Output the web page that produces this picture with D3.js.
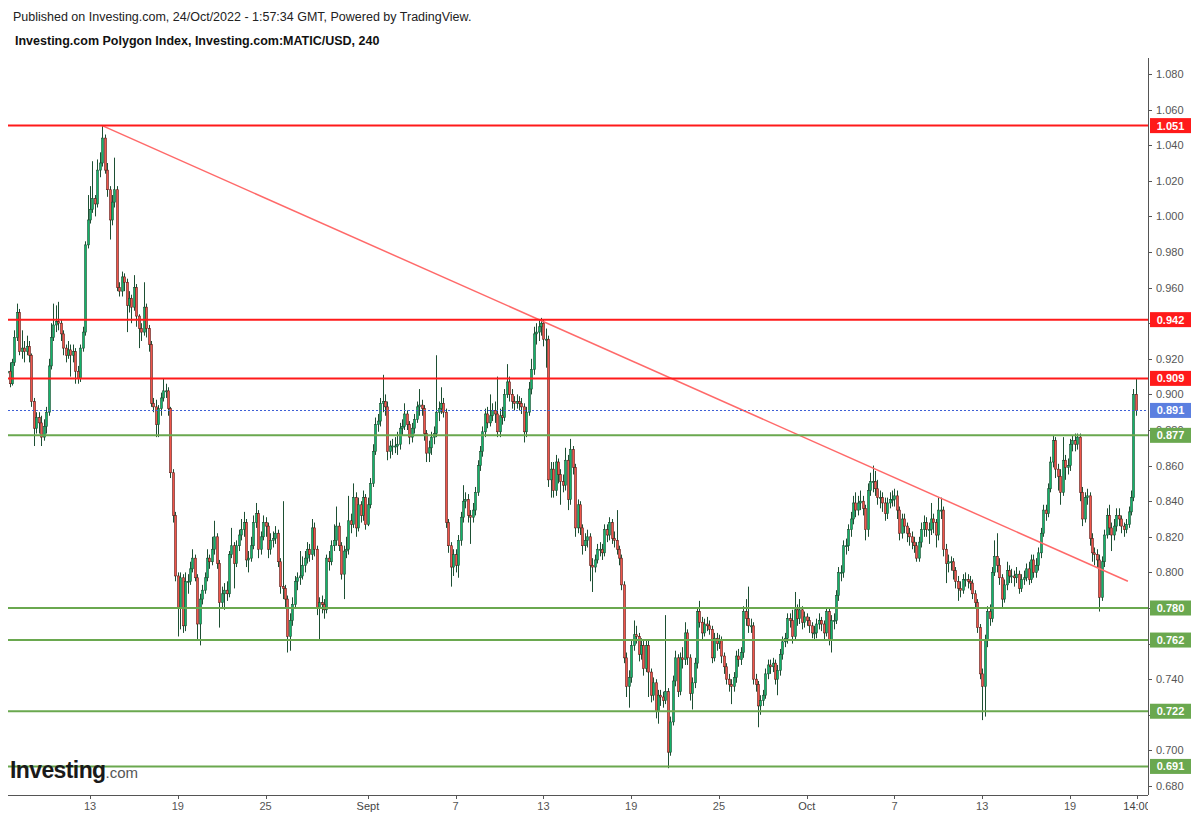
<!DOCTYPE html>
<html>
<head>
<meta charset="utf-8">
<script src="https://cdn.jsdelivr.net/npm/d3@7"></script>
<style>
  body { margin: 0; background: #fff; }
  svg { display: block; font-family: "Liberation Sans", Arial, sans-serif; }
</style>
</head>
<body>
<div id="chart"></div>
<script>
//========= Data (prices in thousandths of USD, 4h candles) =========//
// first candle starts 7 Aug 2022 08:00 UTC, open of each later candle = previous close
var startTime = Date.UTC(2022, 7, 7, 8);
var firstOpen = 912;

var closes = [
  913,906,918,932,946,924,926,924,927,922, 896,881,887,884,876,882,890,916,932,939,
  941,940,934,926,922,925,922,924,913,909, 926,935,984,998,1004,1010,1007,1026,1030,1044,
  1026,1015,998,1008,1015,960,958,966,963,950, 954,949,960,944,937,935,949,937,928,895,
  893,883,892,898,902,902,892,856,832,798, 780,797,770,795,795,802,808,797,771,785,
  790,797,808,806,813,820,805,783,788,790, 788,810,815,805,815,821,824,828,807,808,
  815,828,833,813,820,828,826,813,818,819, 822,806,792,791,785,764,773,782,795,797,
  798,804,808,813,810,825,813,780,783,782, 779,808,806,815,818,826,815,799,812,813,
  829,827,842,825,838,832,842,827,838,850, 868,883,885,895,896,893,868,871,871,871,
  872,881,882,889,883,876,881,886,893,894, 892,878,867,870,876,878,890,892,895,890,
  828,815,803,810,804,818,831,840,841,832, 831,835,845,860,868,879,889,884,888,891,
  889,879,888,887,900,907,900,896,895,896, 895,893,879,890,903,914,934,935,938,940,
  931,931,852,858,846,862,855,851,849,863, 841,869,859,825,838,825,815,818,820,804,
  803,807,813,813,811,824,821,828,819,818, 813,808,793,752,736,741,759,765,764,754,
  759,746,759,744,731,738,722,731,730,728, 733,699,716,739,752,733,752,751,766,752,
  732,738,749,778,772,766,771,770,768,752, 763,760,762,753,747,740,737,736,741,753,
  751,755,778,774,770,770,740,737,725,728, 731,743,748,747,749,740,745,754,761,763,
  774,773,764,779,774,779,772,775,773,770, 766,766,771,773,771,766,778,762,773,773,
  787,800,800,815,815,824,830,839,835,839, 840,836,824,846,851,851,847,842,842,839,
  833,839,841,841,843,835,822,830,826,822, 820,817,815,808,817,824,828,824,824,830,
  828,821,835,835,813,805,806,806,801,795, 791,790,796,796,795,794,788,783,769,743,
  736,762,778,774,800,809,804,797,785,793, 801,798,798,797,799,791,796,797,802,796,
  807,800,804,811,822,835,833,847,862,874, 858,854,845,863,859,860,872,874,872,876,
  845,830,842,843,819,811,810,807,786,806, 821,832,825,821,826,832,830,826,824,827,
  834,842,900,891
];

var highs = [
  917,918,920,936,951,948,936,930,933,930, 923,898,890,890,888,886,893,920,940,951,
  950,952,942,936,928,930,928,928,926,916, 928,938,986,1012,1017,1031,1012,1032,1036,1051,
  1046,1030,1017,1012,1033,1017,963,969,968,965, 958,956,967,962,945,940,963,951,939,930,
  898,897,894,901,909,906,904,893,858,834, 800,800,799,800,799,806,813,810,799,788,
  793,800,813,810,820,829,822,807,792,794, 795,812,825,817,818,824,830,834,830,812,
  820,832,839,835,823,832,831,828,822,823, 826,824,808,840,793,787,777,786,798,800,
  812,809,812,817,816,830,828,815,786,787, 785,810,812,818,827,837,828,817,815,820,
  843,833,850,845,842,840,846,844,842,853, 872,887,889,898,911,900,896,874,875,876,
  879,884,886,895,891,885,884,889,896,903, 897,894,880,874,879,882,922,896,904,898,
  892,830,817,813,813,821,834,849,845,844, 835,839,848,863,871,882,892,893,900,895,
  896,910,892,893,903,917,910,903,899,900, 899,898,895,893,907,920,938,940,942,943,
  942,937,933,862,862,866,864,858,855,870, 866,875,871,861,841,840,827,822,824,822,
  808,810,816,817,816,827,827,831,830,823, 835,815,810,795,755,745,762,773,770,766,
  763,762,762,762,746,741,740,734,734,733, 776,735,719,742,756,754,755,758,772,768,
  754,741,752,780,784,775,774,775,773,770, 766,766,765,764,755,749,743,740,744,756,
  757,758,781,785,792,774,772,743,739,731, 734,746,751,751,752,751,748,757,764,766,
  777,777,779,789,782,785,781,778,777,775, 772,770,774,777,775,773,780,780,776,777,
  790,803,804,818,819,827,834,843,845,843, 846,843,838,850,856,860,857,852,846,845,
  842,842,845,846,847,846,837,833,833,828, 825,823,820,817,820,828,832,831,828,839,
  833,830,842,842,837,816,810,809,808,803, 798,795,799,800,799,798,796,790,785,771,
  746,765,781,782,803,818,822,808,799,796, 806,804,802,801,803,801,799,801,805,806,
  810,810,808,814,825,838,838,850,865,877, 876,861,858,876,866,864,875,877,878,878,
  878,848,845,847,845,822,814,813,810,809, 824,836,838,828,830,836,836,832,828,830,
  837,846,903,909
];

var lows = [
  908,904,905,916,930,922,920,918,922,918, 893,871,878,878,871,874,878,888,914,930,
  935,936,930,922,918,920,910,918,906,906, 907,924,933,982,996,1002,1000,1005,1022,1028,
  1024,1011,987,995,1005,958,955,955,958,935, 946,940,947,938,926,930,933,932,924,893,
  890,876,876,888,896,898,888,853,828,795, 764,768,766,767,788,793,800,795,762,759,
  782,788,795,802,804,810,802,769,780,779, 784,786,808,791,803,812,818,820,803,800,
  806,813,825,808,810,818,820,808,810,814, 816,803,788,785,780,755,756,770,780,790,
  793,796,800,805,806,807,809,776,762,777, 774,777,801,804,812,815,812,796,785,808,
  810,822,825,820,823,828,829,824,826,836, 848,866,879,882,890,888,863,864,866,867,
  866,869,877,880,880,872,873,878,884,888, 888,874,862,862,866,872,876,885,889,887,
  825,811,792,798,800,797,815,828,836,828, 816,828,832,843,857,865,876,881,882,885,
  884,876,876,883,885,898,896,892,891,892, 891,889,873,876,888,900,911,928,930,933,
  927,915,848,842,842,843,850,838,845,846, 835,838,855,820,822,821,810,812,814,795,
  789,800,805,809,807,809,817,818,816,814, 810,804,790,749,730,724,738,756,760,750,
  751,742,744,730,727,728,718,715,725,724, 726,690,697,714,736,730,731,746,748,748,
  728,723,735,746,769,762,764,767,765,749, 750,756,757,749,743,737,733,726,733,738,
  747,748,752,770,766,766,737,733,713,720, 725,729,740,743,744,737,731,742,751,758,
  760,769,760,762,770,771,768,769,770,766, 763,762,763,768,767,762,764,759,755,768,
  771,784,795,797,810,812,820,827,831,832, 835,832,818,820,843,845,843,838,836,834,
  829,830,836,837,837,830,818,819,822,817, 815,813,811,806,806,814,820,820,816,821,
  822,814,818,830,809,794,800,801,796,791, 784,786,788,792,791,790,785,780,766,740,
  717,719,758,770,772,798,800,793,780,783, 790,794,794,792,794,788,789,793,795,793,
  794,797,797,801,808,820,829,831,845,859, 853,846,838,843,852,855,857,868,868,869,
  840,826,828,838,815,806,804,803,778,784, 803,819,821,812,818,823,826,822,820,822,
  825,832,840,888
];

// horizontal levels drawn on the chart
var resistanceLevels = [1.051, 0.942, 0.909];
var supportLevels = [0.877, 0.780, 0.762, 0.722, 0.691];
var lastPrice = 0.891;

// trend line from the August top, through the Sept 13 high
var trendPoints = [
  [Date.UTC(2022, 7, 13, 20), 1.051],
  [Date.UTC(2022, 9, 22, 23), 0.795]
];

// axis ticks
var yTicks = [0.68, 0.70, 0.72, 0.74, 0.76, 0.78, 0.80, 0.82, 0.84, 0.86, 0.88,
  0.90, 0.92, 0.94, 0.96, 0.98, 1.00, 1.02, 1.04, 1.06, 1.08];
var xTickDates = [
  Date.UTC(2022, 7, 13), Date.UTC(2022, 7, 19), Date.UTC(2022, 7, 25), Date.UTC(2022, 8, 1),
  Date.UTC(2022, 8, 7), Date.UTC(2022, 8, 13), Date.UTC(2022, 8, 19), Date.UTC(2022, 8, 25),
  Date.UTC(2022, 9, 1), Date.UTC(2022, 9, 7), Date.UTC(2022, 9, 13), Date.UTC(2022, 9, 19),
  Date.UTC(2022, 9, 23, 14)
];
var xTickLabels = ["13", "19", "25", "Sept", "7", "13", "19", "25", "Oct", "7", "13", "19", "14:00"];

//========= SVG area =========//
var svgWidth = 1197;
var svgHeight = 818;
var plot = { left: 8, right: 1148, top: 58, bottom: 795 };

var svg = d3
  .select("#chart")
  .append("svg")
  .attr("width", svgWidth)
  .attr("height", svgHeight);

var defs = svg.append("defs");
defs.append("clipPath").attr("id", "plotClip")
  .append("rect")
  .attr("x", plot.left).attr("y", plot.top)
  .attr("width", plot.right - plot.left).attr("height", plot.bottom - plot.top);
defs.append("clipPath").attr("id", "xLabelClip")
  .append("rect")
  .attr("x", 0).attr("y", plot.bottom)
  .attr("width", plot.right).attr("height", 30);

// scales
var x = d3.scaleUtc()
  .domain([new Date(Date.UTC(2022, 7, 13)), new Date(Date.UTC(2022, 9, 19))])
  .range([90, 1070]);
var y = d3.scaleLinear().domain([0.68, 1.08]).range([786, 74]);

// build candle objects
var candles = closes.map(function (c, i) {
  return {
    t: new Date(startTime + i * 4 * 3600 * 1000),
    o: (i ? closes[i - 1] : firstOpen) / 1000,
    c: c / 1000,
    h: highs[i] / 1000,
    l: lows[i] / 1000
  };
});

//========= Header =========//
svg.append("text")
  .attr("x", 13).attr("y", 21)
  .attr("font-size", 12.5).attr("fill", "#222")
  .text("Published on Investing.com, 24/Oct/2022 - 1:57:34 GMT, Powered by TradingView.");
svg.append("text")
  .attr("x", 15).attr("y", 45)
  .attr("font-size", 12.5).attr("font-weight", "bold").attr("fill", "#111")
  .text("Investing.com Polygon Index, Investing.com:MATIC/USD, 240");

//========= Candles =========//
var chartGroup = svg.append("g").attr("clip-path", "url(#plotClip)");

var candleGroup = chartGroup.append("g");
var bw = 1.9;

candleGroup.selectAll("line.wick")
  .data(candles)
  .enter()
  .append("line")
  .attr("class", "wick")
  .attr("x1", function (d) { return Math.round(x(d.t)) + 0.5; })
  .attr("x2", function (d) { return Math.round(x(d.t)) + 0.5; })
  .attr("y1", function (d) { return y(Math.max(d.h, d.o, d.c)); })
  .attr("y2", function (d) { return y(Math.min(d.l, d.o, d.c)); })
  .attr("stroke", "#1d4f33")
  .attr("stroke-width", 1);

candleGroup.selectAll("rect.body")
  .data(candles)
  .enter()
  .append("rect")
  .attr("class", "body")
  .attr("x", function (d) { return Math.round(x(d.t)) + 0.5 - bw / 2; })
  .attr("y", function (d) { return y(Math.max(d.o, d.c)); })
  .attr("width", bw)
  .attr("height", function (d) { return Math.max(1, Math.abs(y(d.o) - y(d.c))); })
  .attr("fill", function (d) { return d.c >= d.o ? "#12b36a" : "#f0554a"; })
  .attr("stroke", function (d) { return d.c >= d.o ? "#1d4f33" : "#5a1c18"; })
  .attr("stroke-width", 0.6);

//========= Levels and trend line =========//
chartGroup.append("line")
  .attr("x1", x(new Date(trendPoints[0][0]))).attr("y1", y(trendPoints[0][1]))
  .attr("x2", x(new Date(trendPoints[1][0]))).attr("y2", y(trendPoints[1][1]))
  .attr("stroke", "#ff6a6a").attr("stroke-width", 1.5);

chartGroup.selectAll("line.res")
  .data(resistanceLevels)
  .enter()
  .append("line")
  .attr("class", "res")
  .attr("x1", plot.left).attr("x2", plot.right)
  .attr("y1", function (d) { return y(d); })
  .attr("y2", function (d) { return y(d); })
  .attr("stroke", "#ff1a1a").attr("stroke-width", 2);

chartGroup.selectAll("line.sup")
  .data(supportLevels)
  .enter()
  .append("line")
  .attr("class", "sup")
  .attr("x1", plot.left).attr("x2", plot.right)
  .attr("y1", function (d) { return y(d); })
  .attr("y2", function (d) { return y(d); })
  .attr("stroke", "#6aa84f").attr("stroke-width", 2);

chartGroup.append("line")
  .attr("x1", plot.left).attr("x2", plot.right)
  .attr("y1", Math.round(y(lastPrice)) + 0.5).attr("y2", Math.round(y(lastPrice)) + 0.5)
  .attr("stroke", "#3d5fd6").attr("stroke-width", 1)
  .attr("stroke-dasharray", "2,2");

//========= Axes =========//
var axisColor = "#555";
var allLevels = resistanceLevels.concat(supportLevels, [lastPrice]);

// right price axis
var yAxisGroup = svg.append("g");
yAxisGroup.append("line")
  .attr("x1", plot.right + 0.5).attr("x2", plot.right + 0.5)
  .attr("y1", plot.top).attr("y2", plot.bottom)
  .attr("stroke", axisColor);
var yTick = yAxisGroup.selectAll("g.ytick")
  .data(yTicks)
  .enter()
  .append("g")
  .attr("class", "ytick")
  .attr("transform", function (d) { return "translate(0," + (Math.round(y(d)) + 0.5) + ")"; });
yTick.append("line")
  .attr("x1", plot.right).attr("x2", plot.right + 4)
  .attr("stroke", axisColor);
// labels hidden behind a level box are not drawn
yTick.filter(function (d) {
    return !allLevels.some(function (v) { return Math.abs(y(v) - y(d)) < 5; });
  })
  .append("text")
  .attr("x", plot.right + 8).attr("dy", "0.35em")
  .attr("font-size", 11).attr("fill", "#555")
  .text(function (d) { return d3.format(".3f")(d); });

// bottom time axis
var xAxisGroup = svg.append("g");
xAxisGroup.append("line")
  .attr("x1", plot.left).attr("x2", plot.right)
  .attr("y1", plot.bottom + 0.5).attr("y2", plot.bottom + 0.5)
  .attr("stroke", axisColor);
xAxisGroup.selectAll("line.xtick")
  .data(xTickDates)
  .enter()
  .append("line")
  .attr("class", "xtick")
  .attr("x1", function (d) { return Math.round(x(new Date(d))) + 0.5; })
  .attr("x2", function (d) { return Math.round(x(new Date(d))) + 0.5; })
  .attr("y1", plot.bottom).attr("y2", plot.bottom + 4)
  .attr("stroke", axisColor);
xAxisGroup.append("g")
  .attr("clip-path", "url(#xLabelClip)")
  .selectAll("text")
  .data(xTickDates)
  .enter()
  .append("text")
  .attr("x", function (d) { return x(new Date(d)); })
  .attr("y", plot.bottom + 15)
  .attr("text-anchor", "middle")
  .attr("font-size", 11)
  .attr("fill", function (d, i) { return isNaN(+xTickLabels[i]) ? "#444" : "#555"; })
  .text(function (d, i) { return xTickLabels[i]; });

//========= Price labels on the axis =========//
function levelLabel(value, color) {
  var g = svg.append("g").attr("transform", "translate(" + (plot.right + 2) + "," + y(value) + ")");
  g.append("rect")
    .attr("x", 0).attr("y", -7.5)
    .attr("width", 41).attr("height", 15)
    .attr("fill", color);
  g.append("text")
    .attr("x", 20.5).attr("dy", "0.36em")
    .attr("text-anchor", "middle")
    .attr("font-size", 11).attr("font-weight", "bold")
    .attr("fill", "#fff")
    .text(d3.format(".3f")(value));
}
resistanceLevels.forEach(function (v) { levelLabel(v, "#ff1a1a"); });
supportLevels.forEach(function (v) { levelLabel(v, "#6aa84f"); });
levelLabel(lastPrice, "#5b7fe0");

//========= Logo =========//
var logo = svg.append("text")
  .attr("x", 10).attr("y", 778)
  .attr("fill", "#1a1a1a");
logo.append("tspan")
  .attr("font-size", 23).attr("font-weight", "bold")
  .attr("letter-spacing", "-0.6")
  .text("Investing");
logo.append("tspan")
  .attr("font-size", 15).attr("fill", "#555")
  .text(".com");
</script>
</body>
</html>
